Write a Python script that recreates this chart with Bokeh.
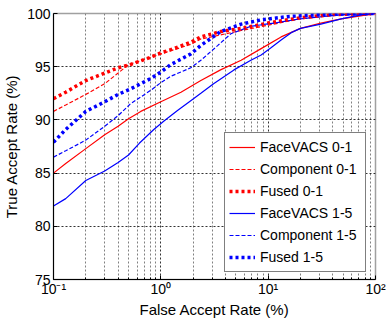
from bokeh.plotting import figure
from bokeh.models import Legend, LegendItem, FixedTicker, Range1d
from bokeh.embed import file_html
from bokeh.resources import INLINE

# ---- data (FAR in %, TAR in %) ----
far_face01 = [0.1, 0.13, 0.2, 0.3, 0.4, 0.5, 0.65, 1.0, 1.54, 2.36, 3.6, 5.6, 8.6, 13.2, 20, 31, 48, 86, 100]
tar_face01 = [85.0, 85.9, 87.3, 88.6, 89.4, 90.1, 90.8, 91.7, 92.6, 93.7, 94.7, 95.6, 96.7, 97.8, 98.6, 99.1, 99.5, 99.9, 100]

far_comp01 = [0.1, 0.13, 0.2, 0.3, 0.4, 0.5, 0.94, 1.24, 1.9, 2.36, 5.6, 10, 20, 50, 100]
tar_comp01 = [90.8, 91.4, 92.4, 93.4, 94.4, 95.2, 96.1, 96.5, 97.1, 97.6, 98.4, 98.9, 99.5, 99.9, 100]

far_fused01 = [0.1, 0.13, 0.2, 0.3, 0.4, 0.52, 0.81, 1.0, 1.24, 1.9, 2.36, 3.6, 5.6, 10, 20, 40, 100]
tar_fused01 = [92.0, 92.6, 93.7, 94.4, 94.9, 95.2, 95.9, 96.3, 96.6, 97.3, 97.8, 98.3, 98.6, 99.1, 99.6, 99.9, 100]

far_face15 = [0.1, 0.13, 0.2, 0.3, 0.4, 0.5, 0.63, 0.86, 1.07, 1.44, 1.9, 2.36, 3.1, 4.8, 6.9, 8.6, 10.7, 13.2, 16.4, 20, 31, 48, 75, 100]
tar_face15 = [81.9, 82.6, 84.3, 85.2, 86.0, 86.7, 87.8, 89.1, 89.9, 90.9, 91.8, 92.5, 93.4, 94.7, 95.6, 96.1, 96.8, 97.5, 98.2, 98.6, 99.0, 99.5, 99.9, 100]

far_comp15 = [0.1, 0.13, 0.2, 0.3, 0.4, 0.52, 0.81, 1.0, 1.24, 1.9, 2.36, 3.4, 4.5, 6.9, 11.4, 20, 50, 100]
tar_comp15 = [86.5, 87.1, 88.1, 89.4, 90.4, 91.5, 92.8, 93.5, 94.1, 94.9, 95.6, 97.0, 98.1, 98.8, 99.1, 99.5, 99.9, 100]

far_fused15 = [0.1, 0.13, 0.2, 0.3, 0.4, 0.52, 0.81, 1.0, 1.24, 1.9, 2.36, 3.6, 5.6, 8.6, 15, 30, 100]
tar_fused15 = [87.9, 89.1, 90.8, 91.7, 92.4, 92.9, 93.9, 94.5, 95.2, 96.2, 97.0, 98.3, 99.0, 99.4, 99.7, 99.9, 100]

series_names = ["FaceVACS 0-1", "Component 0-1", "Fused 0-1", "FaceVACS 1-5", "Component 1-5", "Fused 1-5"]
x_ticks = [0.1, 1, 10, 100]
x_tick_labels = ["10\u207b\u00b9", "10\u2070", "10\u00b9", "10\u00b2"]
y_ticks = [75, 80, 85, 90, 95, 100]

FONT = "Liberation Sans"

p = figure(x_axis_type="log", output_backend="svg", toolbar_location=None,
           frame_width=322, frame_height=266,
           min_border_left=53, min_border_right=11, min_border_top=13, min_border_bottom=38,
           x_range=Range1d(0.1, 100), y_range=Range1d(75, 100))

p.background_fill_color = "white"
p.border_fill_color = "white"
p.outline_line_color = "#a0a0a0"
p.outline_line_width = 1.5

# axes
for ax in (p.xaxis[0], p.yaxis[0]):
    ax.axis_line_color = "black"
    ax.major_tick_line_color = "black"
    ax.minor_tick_line_color = "black"
    ax.major_tick_in = 4
    ax.major_tick_out = 0
    ax.minor_tick_in = 2
    ax.minor_tick_out = 0
    ax.major_label_text_font = FONT
    ax.major_label_text_font_size = "14px"
    ax.major_label_text_color = "black"
    ax.axis_label_text_font = FONT
    ax.axis_label_text_font_size = "15px"
    ax.axis_label_text_font_style = "normal"
    ax.axis_label_text_color = "black"

p.xaxis.ticker = FixedTicker(ticks=x_ticks,
                             minor_ticks=[k * 10.0 ** e for e in (-1, 0, 1) for k in range(2, 10)])
p.xaxis.major_label_overrides = {t: s for t, s in zip(x_ticks, x_tick_labels)}
p.yaxis.ticker = FixedTicker(ticks=y_ticks, minor_ticks=[])
p.xaxis.axis_label = "False Accept Rate (%)"
p.yaxis.axis_label = "True Accept Rate (%)"
p.xaxis.major_label_standoff = 1
p.xaxis.axis_label_standoff = 1
p.yaxis.major_label_standoff = 3
p.yaxis.axis_label_standoff = 4

# grid
p.xgrid.grid_line_color = "black"
p.xgrid.grid_line_dash = "2 2"
p.xgrid.grid_line_alpha = 0.8
p.xgrid.minor_grid_line_color = "#808080"
p.xgrid.minor_grid_line_dash = "2 2"
p.ygrid.grid_line_color = "black"
p.ygrid.grid_line_dash = "2 2"
p.ygrid.grid_line_alpha = 0.8

RED = "#ff0000"
BLUE = "#0000ff"

styles = [
    (far_face01, tar_face01, RED, 1.2, "solid"),
    (far_comp01, tar_comp01, RED, 1.2, "4 2"),
    (far_fused01, tar_fused01, RED, 3.5, "3 3"),
    (far_face15, tar_face15, BLUE, 1.2, "solid"),
    (far_comp15, tar_comp15, BLUE, 1.2, "4 2"),
    (far_fused15, tar_fused15, BLUE, 3.5, "3 3"),
]

items = []
for name, (xs, ys, col, lw, dash) in zip(series_names, styles):
    r = p.line(xs, ys, line_color=col, line_width=lw, line_dash=dash)
    items.append(LegendItem(label=name, renderers=[r]))

legend = Legend(items=items, location=(171, 7))
legend.label_text_font = FONT
legend.label_text_font_size = "14px"
legend.label_text_color = "black"
legend.border_line_color = "black"
legend.border_line_width = 1
legend.background_fill_color = "white"
legend.background_fill_alpha = 1
legend.padding = 4
legend.spacing = 2
legend.margin = 0
legend.label_height = 20
legend.glyph_height = 20
legend.glyph_width = 26
legend.label_width = 101
legend.label_standoff = 5
p.add_layout(legend, "center")

open("out.html", "w").write(file_html(p, INLINE))
